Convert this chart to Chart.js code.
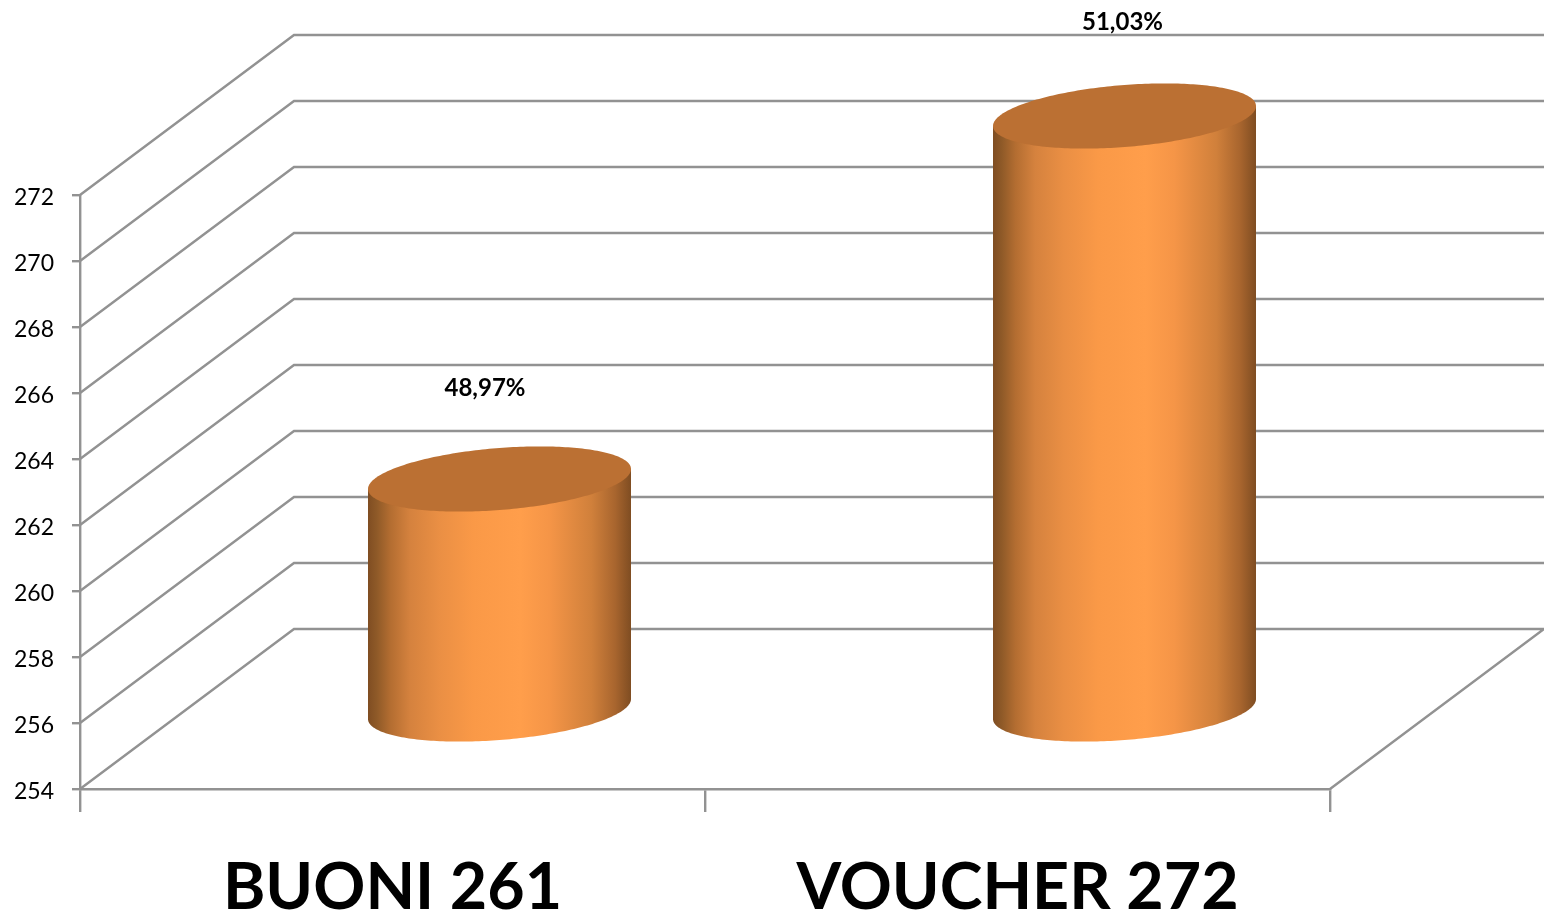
<!DOCTYPE html>
<html>
<head>
<meta charset="utf-8">
<style>html,body{margin:0;padding:0;background:#fff;overflow:hidden}canvas{display:block}</style>
<script src="https://cdn.jsdelivr.net/npm/chart.js@4/dist/chart.umd.min.js"></script>
</head>
<body>
<canvas id="c" width="1544" height="913"></canvas>
<script>
const categories = ["BUONI 261", "VOUCHER 272"];
const values = [261, 272];
const percentLabels = ["48,97%", "51,03%"];
const axisMin = 254;
const axisMax = 272;
const axisStep = 2;

const DEPTH_X = 214, DEPTH_Y = 160;
const GRID = "#929292";
const LINE = 2.4;
const FONT = "Lato, Carlito, sans-serif";
const LABEL_SHIFT = [[-14.5, -91], [-2, -94]];

const walls = {
  id: "walls",
  beforeDatasetsDraw(chart) {
    const { ctx, chartArea: a, scales: { y } } = chart;
    ctx.save();
    ctx.strokeStyle = GRID;
    ctx.lineWidth = LINE;
    ctx.beginPath();
    y.ticks.forEach((t, i) => {
      const py = y.getPixelForTick(i);
      ctx.moveTo(a.left, py);
      ctx.lineTo(a.left + DEPTH_X, py - DEPTH_Y);
      ctx.lineTo(a.right + DEPTH_X, py - DEPTH_Y);
    });
    ctx.moveTo(a.right, a.bottom);
    ctx.lineTo(a.right + DEPTH_X, a.bottom - DEPTH_Y);
    ctx.stroke();
    ctx.restore();
  }
};

const cylinders = {
  id: "cylinders",
  afterDatasetsDraw(chart) {
    const { ctx, scales: { y } } = chart;
    const meta = chart.getDatasetMeta(0);
    const base = y.getPixelForValue(axisMin);
    meta.data.forEach((bar, i) => {
      const r = bar.width / 2;
      const cx = bar.x + DEPTH_X / 2;
      const topY = bar.y - 79;
      const botY = base - 80;
      const tilt = -r * 0.076, minor = r * 0.236;
      const px = t => cx + r * Math.cos(t);
      const py = (t, c) => c + tilt * Math.cos(t) + minor * Math.sin(t);

      const g = ctx.createLinearGradient(cx - r, 0, cx + r, 0);
      g.addColorStop(0, "#7f4d22");
      g.addColorStop(0.034, "#8f5a28");
      g.addColorStop(0.085, "#b36d31");
      g.addColorStop(0.16, "#d5823e");
      g.addColorStop(0.27, "#ea8f44");
      g.addColorStop(0.4, "#fa9947");
      g.addColorStop(0.58, "#ff9e4b");
      g.addColorStop(0.69, "#f59547");
      g.addColorStop(0.85, "#d0803b");
      g.addColorStop(0.94, "#a8652e");
      g.addColorStop(1, "#7f4d22");

      ctx.save();
      ctx.beginPath();
      ctx.moveTo(px(Math.PI), py(Math.PI, topY));
      ctx.lineTo(px(Math.PI), py(Math.PI, botY));
      for (let k = 1; k <= 120; k++) {
        const t = Math.PI - Math.PI * k / 120;
        ctx.lineTo(px(t), py(t, botY));
      }
      ctx.lineTo(px(0), py(0, topY));
      ctx.closePath();
      ctx.fillStyle = g;
      ctx.fill();

      ctx.beginPath();
      for (let k = 0; k <= 240; k++) {
        const t = 2 * Math.PI * k / 240;
        if (k === 0) ctx.moveTo(px(t), py(t, topY)); else ctx.lineTo(px(t), py(t, topY));
      }
      ctx.closePath();
      ctx.fillStyle = "#bb7033";
      ctx.fill();

      ctx.fillStyle = "#000";
      ctx.font = "bold 24px " + FONT;
      ctx.textAlign = "center";
      ctx.textBaseline = "middle";
      ctx.fillText(percentLabels[i], cx + LABEL_SHIFT[i][0], topY + LABEL_SHIFT[i][1]);
      ctx.restore();
    });
  }
};

new Chart(document.getElementById("c"), {
  type: "bar",
  data: {
    labels: categories,
    datasets: [{
      data: values,
      backgroundColor: "transparent",
      borderWidth: 0,
      categoryPercentage: 1,
      barPercentage: 0.4208
    }]
  },
  options: {
    responsive: false,
    animation: false,
    devicePixelRatio: 1,
    layout: { padding: { top: 195, right: 214, left: 0, bottom: 0 } },
    plugins: { legend: { display: false }, tooltip: { enabled: false }, title: { display: false } },
    scales: {
      x: {
        afterFit(s) { s.height = 124; },
        border: { color: GRID, width: LINE },
        grid: { offset: true, drawOnChartArea: false, color: GRID, lineWidth: LINE, tickLength: 23 },
        ticks: {
          autoSkip: false, maxRotation: 0, minRotation: 0, padding: 38,
          color: "#000", font: { family: FONT, size: 64.5, weight: "bold" }
        }
      },
      y: {
        min: axisMin, max: axisMax,
        afterFit(s) { s.width = 80; },
        border: { color: GRID, width: LINE },
        grid: { drawOnChartArea: false, color: GRID, lineWidth: LINE, tickLength: 8 },
        ticks: { stepSize: axisStep, padding: 18, labelOffset: 3, color: "#000", font: { family: FONT, size: 23 } }
      }
    }
  },
  plugins: [walls, cylinders]
});
</script>
</body>
</html>
